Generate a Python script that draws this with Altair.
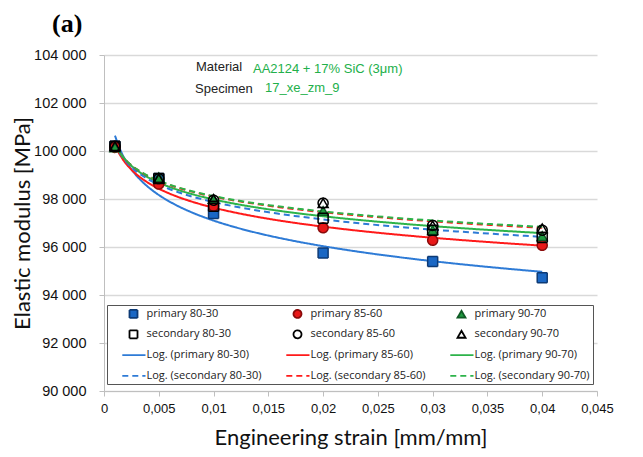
import altair as alt
import pandas as pd

strain = [0.001, 0.005, 0.01, 0.02, 0.03, 0.04]
primary_80_30 = [100200, 98850, 97400, 95750, 95400, 94720]
primary_85_60 = [100150, 98620, 97700, 96800, 96280, 96070]
primary_90_70 = [100150, 98900, 98000, 97500, 96700, 96450]
secondary_80_30 = [100200, 98850, 97700, 97200, 96700, 96400]
secondary_85_60 = [100200, 98850, 97950, 97830, 96900, 96700]
secondary_90_70 = [100200, 98850, 98000, 97830, 96900, 96780]

series_names = ["primary 80-30", "primary 85-60", "primary 90-70",
                "secondary 80-30", "secondary 85-60", "secondary 90-70"]
series_values = [primary_80_30, primary_85_60, primary_90_70,
                 secondary_80_30, secondary_85_60, secondary_90_70]
trend_names = ["Log. (" + s + ")" for s in series_names]

x_ticks = [0, 0.005, 0.01, 0.015, 0.02, 0.025, 0.03, 0.035, 0.04, 0.045]
y_ticks = [90000, 92000, 94000, 96000, 98000, 100000, 102000, 104000]

note_labels = ["Material", "AA2124 + 17% SiC (3μm)", "Specimen", "17_xe_zm_9"]

rows = []
for name, vals in zip(series_names, series_values):
    for xv, yv in zip(strain, vals):
        rows.append({"strain": xv, "modulus": yv, "series": name})
df = pd.DataFrame(rows)

line_path = "M-2.8,0H3"
domain = series_names + trend_names
fill_range = ["#1a67c4", "#e81818", "#1f9a40",
              "transparent", "transparent", "transparent"] + ["transparent"] * 6
stroke_range = ["#0d3a75", "#8a0a0a", "#0f5a25", "#000000", "#000000", "#000000",
                "#2e7bd6", "#ff1a1a", "#2db34a", "#2e7bd6", "#ff1a1a", "#2db34a"]
shape_range = ["square", "circle", "triangle-up", "square", "circle", "triangle-up"] + [line_path] * 6
dash_range = [[1, 0]] * 9 + [[6, 4]] * 3

legend = alt.Legend(
    title=None, orient="none", legendX=3, legendY=250, columns=3, direction="horizontal",
    strokeColor="#555555", fillColor="white", padding=3, rowPadding=3.8, columnPadding=12,
    labelFont="Open Sans", labelFontSize=11, labelColor="#222222", labelLimit=220,
    symbolStrokeWidth=1.8, symbolSize=64, symbolOffset=18, labelOffset=7.5, gridAlign="all",
)

sc = alt.Scale(domain=domain, range=stroke_range)
fc = alt.Scale(domain=domain, range=fill_range)
shc = alt.Scale(domain=domain, range=shape_range)
dc = alt.Scale(domain=domain, range=dash_range)

x_enc = alt.X("strain:Q", scale=alt.Scale(domain=[0, 0.045], nice=False),
              axis=alt.Axis(values=x_ticks, title="Engineering strain [mm/mm]",
                            labelExpr="replace(format(datum.value, '~g'), '.', ',')",
                            grid=False, labelFlush=False))
y_enc = alt.Y("modulus:Q", scale=alt.Scale(domain=[90000, 104000], nice=False),
              axis=alt.Axis(values=y_ticks, title="Elastic modulus [MPa]",
                            labelExpr="replace(format(datum.value, ','), ',', ' ')",
                            labelFlush=False))

base = alt.Chart(df)

lines = base.transform_regression(
    "strain", "modulus", groupby=["series"], method="log"
).transform_calculate(
    series='"Log. (" + datum.series + ")"'
).mark_line(strokeWidth=2).encode(
    x=x_enc, y=y_enc,
    stroke=alt.Stroke("series:N", scale=sc, legend=legend),
    strokeDash=alt.StrokeDash("series:N", scale=dc, legend=legend),
)

points = base.mark_point(opacity=1, strokeWidth=1.5, filled=False, size=100).encode(
    x=x_enc, y=y_enc,
    stroke=alt.Stroke("series:N", scale=sc, legend=legend),
    fill=alt.Fill("series:N", scale=fc, legend=legend),
    shape=alt.Shape("series:N", scale=shc, legend=legend),
    strokeDash=alt.StrokeDash("series:N", scale=dc, legend=legend),
)

notes = pd.DataFrame({
    "label": note_labels,
    "color": ["#222222", "#22b04a", "#222222", "#22b04a"],
    "px": [92, 149, 91, 161],
    "py": [12, 14, 34, 33],
})
note_layer = alt.Chart(notes).mark_text(
    align="left", baseline="middle", font="Liberation Sans", fontSize=13
).encode(
    x=alt.X("px:Q", scale=None), y=alt.Y("py:Q", scale=None),
    text="label:N", color=alt.Color("color:N", scale=None),
)

chart = alt.layer(lines, points, note_layer).resolve_scale(
    x="shared", y="shared"
).properties(
    width=493, height=336,
    padding={"left": 3, "top": 3, "right": 5, "bottom": 5},
    title=alt.TitleParams("(a)", anchor="start", frame="group", dx=-52, offset=10,
                          font="Liberation Serif", fontSize=26, fontWeight="bold",
                          color="black"),
).configure_view(stroke=None).configure_axis(
    domainColor="#bfbfbf", tickColor="#bfbfbf", gridColor="#d9d9d9", gridWidth=1.5,
    tickSize=5, labelFont="Liberation Sans", labelColor="#111111",
    titleFont="Lato", titleFontSize=22, titleFontWeight="normal", titleColor="#111111",
).configure_axisY(
    labelFontSize=14.5, labelPadding=13, titlePadding=-1,
).configure_axisX(
    labelFontSize=13, labelPadding=6, titlePadding=12,
)

chart.save("out.html", embed_options={"renderer": "svg", "actions": False})
